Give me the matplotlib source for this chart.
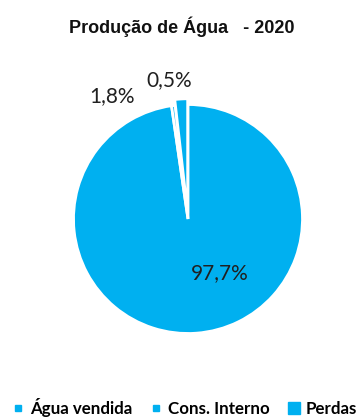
import matplotlib.pyplot as plt
from matplotlib.lines import Line2D

categorias = ['Água vendida', 'Cons. Interno', 'Perdas']
valores = [97.7, 0.5, 1.8]
destaque = [0, 0, 0.05]
# posições dos rótulos (coordenadas do eixo do gráfico)
pos_rotulos = [(0.28, -0.47), (-0.16, 1.21), (-0.66, 1.07)]

azul = '#00B0F0'

W, H = 363, 418
fig = plt.figure(figsize=(W / 100, H / 100), dpi=100)

cx, cy, r = 188, 219, 114.5
ax = fig.add_axes([(cx - r) / W, (H - cy - r) / H, 2 * r / W, 2 * r / H])
ax.pie(valores, colors=[azul] * 3, explode=destaque, startangle=90,
       counterclock=False, wedgeprops=dict(edgecolor='white', linewidth=2),
       radius=1, frame=False)
ax.set_xlim(-1, 1)
ax.set_ylim(-1, 1)
ax.set_aspect('equal')
ax.axis('off')
for w in ax.patches:
    w.set_clip_on(False)

for v, (x, y) in zip(valores, pos_rotulos):
    ax.text(x, y, f'{v:.1f}%'.replace('.', ','), ha='center', va='center',
            fontsize=15, family='Lato', color='#202020', clip_on=False)

fig.text(0.5, 0.937, 'Produção de Água   - 2020', ha='center', va='center',
         fontsize=13, fontweight='bold', family='Liberation Sans', color='#111111')

handles = [
    Line2D([], [], marker='s', linestyle='', markersize=4, color=azul),
    Line2D([], [], marker='s', linestyle='', markersize=4, color=azul),
    Line2D([], [], marker='s', linestyle='', markersize=8, color=azul),
]
fig.legend(handles, categorias, loc='center', bbox_to_anchor=(0.51, 0.025),
           ncol=3, frameon=False, handlelength=0.6, handletextpad=0.4,
           columnspacing=1.1, prop=dict(family='Lato', weight='bold', size=12.2))

fig.savefig('out.png', dpi=100, facecolor='white')
